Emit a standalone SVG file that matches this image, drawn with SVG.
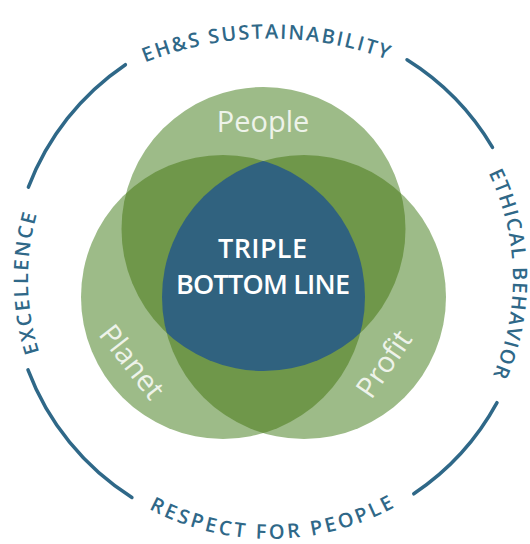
<svg xmlns="http://www.w3.org/2000/svg" width="530" height="544" viewBox="0 0 530 544">
  <style>
    .ring{fill:none;stroke:#2f6888;stroke-width:3.5;stroke-linecap:round}
    .ringtxt{font-family:"Open Sans","Liberation Sans",sans-serif;font-weight:600;font-size:20px;fill:#2f6888;text-anchor:middle}
    .single{fill:#9dbb88}
    .double{fill:#6f974a}
    .triple{fill:#30627f}
    .lbl{font-family:"Open Sans","Liberation Sans",sans-serif;font-size:29px;fill:#eef3ea;text-anchor:middle}
    .core{font-family:"Open Sans","Liberation Sans",sans-serif;font-weight:600;font-size:27px;fill:#ffffff;text-anchor:middle}
  </style>
  <defs>
    <circle id="cTop" cx="263.5" cy="229" r="142"/>
    <circle id="cLeft" cx="223" cy="297" r="142"/>
    <circle id="cRight" cx="304" cy="297" r="142"/>
    <clipPath id="clipTop"><use href="#cTop"/></clipPath>
    <clipPath id="clipLeft"><use href="#cLeft"/></clipPath>
    <clipPath id="clipRight"><use href="#cRight"/></clipPath>
    <!-- baselines for the lettering around the ring -->
    <path id="pTop" d="M -67.5,376 A 337.5 337.5 0 0 1 607.5,376"/>
    <path id="pBottom" d="M 10,279 A 260 260 0 0 0 530,279"/>
    <path id="pLeft" d="M 270,521 A 242 242 0 0 1 270,37"/>
    <path id="pRight" d="M 270,36 A 243 243 0 0 1 270,522"/>
  </defs>

  <!-- outer ring, broken where the values are written -->
  <g id="connectors">
    <path class="ring" d="M 28.4,187.2 A 258.5 258.5 0 0 1 125.4,64.7"/>
    <path class="ring" d="M 407,59.8 A 258.5 258.5 0 0 1 492.5,147.4"/>
    <path class="ring" d="M 497,402.7 A 258.5 258.5 0 0 1 413.8,493.8"/>
    <path class="ring" d="M 131.9,497.5 A 258.5 258.5 0 0 1 28,369.9"/>
  </g>

  <g id="value-sustainability">
    <text class="ringtxt"><textPath href="#pTop" startOffset="526" textLength="248" lengthAdjust="spacing">EH&amp;S SUSTAINABILITY</textPath></text>
  </g>
  <g id="value-ethics">
    <text class="ringtxt"><textPath href="#pRight" startOffset="376" textLength="209" lengthAdjust="spacing">ETHICAL BEHAVIOR</textPath></text>
  </g>
  <g id="value-respect">
    <text class="ringtxt"><textPath href="#pBottom" startOffset="410.2" textLength="256" lengthAdjust="spacing">RESPECT FOR PEOPLE</textPath></text>
  </g>
  <g id="value-excellence">
    <text class="ringtxt"><textPath href="#pLeft" startOffset="375.5" textLength="140" lengthAdjust="spacing">EXCELLENCE</textPath></text>
  </g>

  <!-- three overlapping circles -->
  <g id="people">
    <use href="#cTop" class="single"/>
  </g>
  <g id="planet">
    <use href="#cLeft" class="single"/>
  </g>
  <g id="profit">
    <use href="#cRight" class="single"/>
  </g>

  <!-- pairwise overlaps -->
  <g id="overlaps">
    <g clip-path="url(#clipTop)"><use href="#cLeft" class="double"/><use href="#cRight" class="double"/></g>
    <g clip-path="url(#clipLeft)"><use href="#cRight" class="double"/></g>
  </g>

  <!-- common core -->
  <g id="triple-bottom-line">
    <g clip-path="url(#clipTop)"><g clip-path="url(#clipLeft)"><use href="#cRight" class="triple"/></g></g>
    <text class="core" x="262.5" y="258" textLength="89" lengthAdjust="spacing">TRIPLE</text>
    <text class="core" x="263" y="294" textLength="174" lengthAdjust="spacing">BOTTOM LINE</text>
  </g>

  <g id="labels">
    <text class="lbl" x="263" y="132">People</text>
    <text class="lbl" transform="translate(132,362) rotate(52)" y="10">Planet</text>
    <text class="lbl" transform="translate(384,364) rotate(-55.6)" y="10">Profit</text>
  </g>
</svg>
